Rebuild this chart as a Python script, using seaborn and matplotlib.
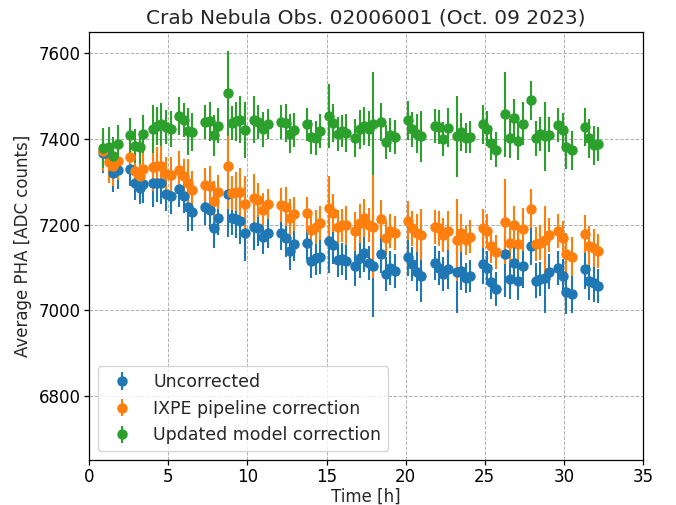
import matplotlib
matplotlib.use("Agg")
import matplotlib.pyplot as plt
import numpy as np
import seaborn as sns

# time bins [h]
time_h = [0.9, 1.23, 1.5, 1.8,
          2.6, 2.91, 3.18, 3.43,
          4.02, 4.27, 4.55, 4.86, 5.18,
          5.7, 6.01, 6.23, 6.51,
          7.32, 7.63, 7.90, 8.16, 8.75, 9.0, 9.25, 9.52, 9.84,
          10.4, 10.67, 10.99, 11.27, 12.1, 12.42, 12.67, 12.92,
          13.76, 14.03, 14.35, 14.6, 15.15, 15.44, 15.71, 15.99, 16.24,
          16.83, 17.12, 17.39, 17.66, 17.96, 18.47, 18.76, 19.03, 19.32,
          20.16, 20.43, 20.71, 21.0, 21.84, 22.12, 22.39, 22.68,
          23.23, 23.52, 23.8, 24.07, 24.88, 25.16, 25.43, 25.72,
          26.31, 26.57, 26.84, 27.11, 27.41, 27.95, 28.25, 28.52, 28.83, 29.09,
          29.63, 29.92, 30.16, 30.51, 31.31, 31.6, 31.88, 32.19]

uncorrected = [7367, 7359, 7320, 7328,
               7330, 7297, 7285, 7295,
               7297, 7298, 7298, 7271, 7266,
               7284, 7266, 7240, 7229,
               7240, 7234, 7193, 7215, 7272, 7215, 7213, 7209, 7180,
               7195, 7191, 7170, 7180, 7181, 7168, 7138, 7154,
               7156, 7115, 7121, 7125, 7162, 7152, 7117, 7120, 7115,
               7102, 7121, 7133, 7111, 7104, 7131, 7084, 7098, 7092,
               7124, 7107, 7090, 7080, 7110, 7098, 7084, 7095,
               7088, 7092, 7076, 7080, 7107, 7099, 7065, 7049,
               7131, 7072, 7111, 7068, 7102, 7151, 7069, 7072, 7074, 7090,
               7099, 7080, 7042, 7038, 7095, 7068, 7063, 7057]

ixpe_pipeline = [7372, 7345, 7336, 7349,
                 7358, 7324, 7313, 7330,
                 7334, 7336, 7337, 7318, 7315,
                 7327, 7314, 7297, 7281,
                 7293, 7291, 7254, 7276, 7336, 7273, 7277, 7276, 7248,
                 7262, 7258, 7234, 7248, 7246, 7242, 7215, 7224,
                 7227, 7188, 7195, 7203, 7238, 7227, 7195, 7198, 7198,
                 7184, 7203, 7215, 7199, 7195, 7213, 7168, 7185, 7180,
                 7209, 7191, 7180, 7176, 7194, 7191, 7176, 7186,
                 7164, 7180, 7163, 7172, 7191, 7185, 7151, 7135,
                 7207, 7156, 7199, 7155, 7189, 7237, 7155, 7158, 7163, 7176,
                 7185, 7168, 7131, 7125, 7178, 7151, 7145, 7138]

updated_model = [7379, 7380, 7359, 7387,
                 7408, 7384, 7380, 7412,
                 7423, 7430, 7434, 7427, 7422,
                 7453, 7444, 7418, 7416,
                 7439, 7441, 7408, 7431, 7506, 7437, 7441, 7445, 7420,
                 7445, 7439, 7422, 7435, 7439, 7437, 7412, 7420,
                 7434, 7404, 7402, 7418, 7453, 7437, 7412, 7418, 7414,
                 7402, 7422, 7430, 7424, 7435, 7439, 7393, 7409, 7404,
                 7443, 7422, 7412, 7406, 7430, 7427, 7400, 7426,
                 7406, 7416, 7401, 7404, 7434, 7424, 7391, 7375,
                 7457, 7401, 7449, 7395, 7435, 7490, 7401, 7412, 7406, 7410,
                 7432, 7420, 7380, 7373, 7428, 7401, 7385, 7388]

pha_err = [47, 47, 45, 45,
           40, 40, 38, 44,
           55, 45, 50, 40, 42,
           44, 40, 55, 45,
           40, 45, 48, 40, 100, 40, 45, 55, 65,
           55, 40, 40, 35, 40, 45, 45, 40,
           38, 40, 40, 40, 75, 45, 40, 38, 45,
           45, 45, 45, 40, 120, 45, 40, 40, 40,
           45, 40, 45, 60, 40, 40, 40, 45,
           95, 45, 35, 38, 45, 40, 40, 40,
           100, 45, 45, 45, 50, 45, 40, 40, 80, 40,
           40, 40, 50, 45, 45, 45, 45, 40]

series = [("Uncorrected", uncorrected),
          ("IXPE pipeline correction", ixpe_pipeline),
          ("Updated model correction", updated_model)]

sns.set_theme(style="ticks")
plt.rcParams["font.family"] = ["DejaVu Sans"]
palette = sns.color_palette("tab10", 3)

fig, ax = plt.subplots(figsize=(6.76, 5.05), dpi=100)
fig.subplots_adjust(left=0.132, right=0.951, top=0.937, bottom=0.089)

for (label, values), color in zip(series, palette):
    ax.errorbar(time_h, values, yerr=pha_err, fmt="o", color=color,
                markersize=6.5, elinewidth=1.5, label=label)

ax.set_xlim(0, 35)
ax.set_ylim(6650, 7650)
ax.set_xticks(np.arange(0, 36, 5))
ax.set_yticks(np.arange(6800, 7601, 200))
ax.grid(True, linestyle="--", color="#b0b0b0", linewidth=0.7)
ax.tick_params(labelsize=12, direction="out", length=3.5, width=0.9,
               pad=2.5, colors="black")
for s in ax.spines.values():
    s.set_color("black")
    s.set_linewidth(0.9)
ax.set_xlabel("Time [h]", fontsize=12, labelpad=1)
ax.set_ylabel("Average PHA [ADC counts]", fontsize=12, labelpad=5)
ax.set_title("Crab Nebula Obs. 02006001 (Oct. 09 2023)", fontsize=14.5)
ax.legend(loc="lower left", fontsize=12.5, frameon=True)

fig.savefig("out.png", dpi=100)
